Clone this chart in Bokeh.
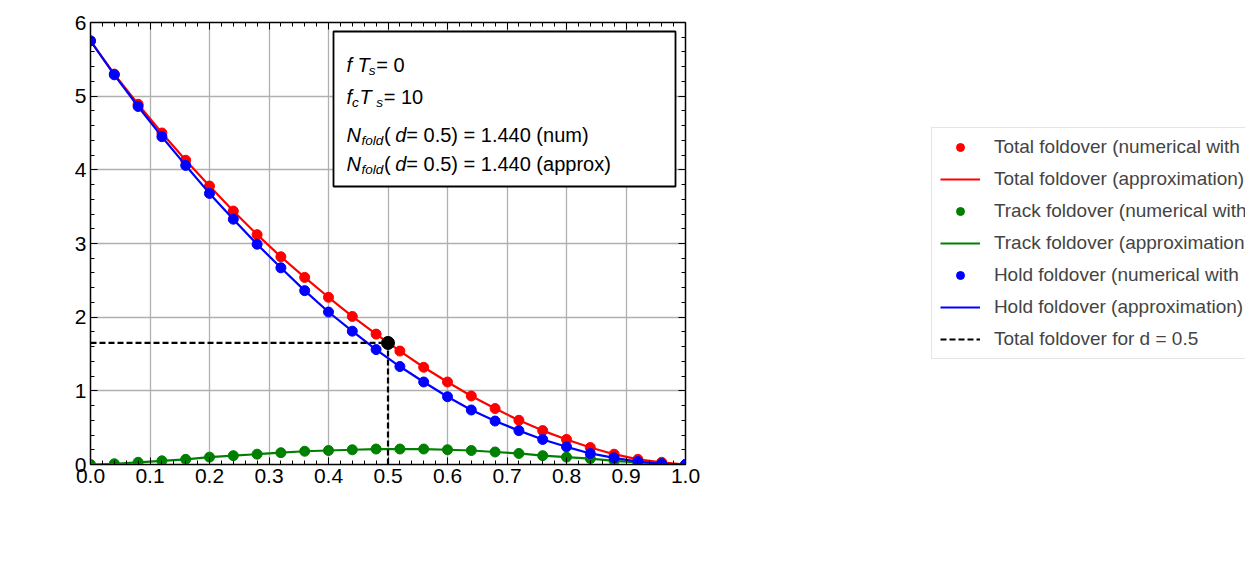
from bokeh.plotting import figure
from bokeh.models import Range1d, LinearAxis, Legend, LegendItem, FixedTicker, ColumnDataSource, Label
from bokeh.embed import file_html
from bokeh.resources import INLINE

d = [0.0,0.04,0.08,0.12,0.16,0.20,0.24,0.28,0.32,0.36,0.40,0.44,0.48,0.52,0.56,0.60,0.64,0.68,0.72,0.76,0.80,0.84,0.88,0.92,0.96,1.0]
total = [5.75,5.30,4.89,4.50,4.13,3.78,3.44,3.12,2.82,2.54,2.27,2.01,1.77,1.54,1.32,1.12,0.93,0.76,0.60,0.46,0.34,0.23,0.14,0.07,0.03,0.0]
hold  = [5.75,5.29,4.86,4.45,4.06,3.68,3.33,2.99,2.67,2.36,2.07,1.81,1.56,1.33,1.12,0.92,0.74,0.59,0.46,0.34,0.24,0.15,0.09,0.04,0.01,0.0]
track = [0.0,0.01,0.03,0.05,0.07,0.10,0.12,0.14,0.16,0.18,0.19,0.20,0.21,0.21,0.21,0.20,0.19,0.17,0.15,0.12,0.10,0.08,0.05,0.03,0.01,0.0]
d_mark = 0.5
total_mark = 1.65

FONT = "Liberation Sans"
p = figure(frame_width=595, frame_height=442, output_backend="svg", toolbar_location=None,
           x_range=Range1d(0, 1), y_range=Range1d(0, 6),
           min_border_left=90, min_border_top=22, min_border_right=10, min_border_bottom=95)
p.outline_line_color = "black"
p.outline_line_width = 1.5
p.background_fill_color = "white"
p.border_fill_color = "white"

def style_axis(ax, labels=True):
    ax.major_tick_in = 7
    ax.major_tick_out = 0
    ax.minor_tick_in = 4
    ax.minor_tick_out = 0
    ax.axis_line_color = "black"
    ax.major_tick_line_color = "black"
    ax.minor_tick_line_color = "black"
    ax.major_label_text_font = FONT
    ax.major_label_text_font_size = "21px" if labels else "0px"
    ax.major_label_text_color = "black"
    ax.major_label_standoff = 4

xt = FixedTicker(ticks=[i/10 for i in range(11)], minor_ticks=[i/50 for i in range(51)])
yt = FixedTicker(ticks=list(range(7)), minor_ticks=[i/5 for i in range(31)])
p.xaxis.ticker = xt
p.yaxis.ticker = yt
style_axis(p.xaxis[0]); style_axis(p.yaxis[0])
p.xaxis.major_label_overrides = {i/10: f"{i/10:.1f}" for i in range(11)}
top = LinearAxis(ticker=xt); style_axis(top, False)
right = LinearAxis(ticker=yt); style_axis(right, False)
p.add_layout(top, "above"); p.add_layout(right, "right")
p.grid.grid_line_color = "#b0b0b0"
p.grid.grid_line_width = 1.3
p.xgrid.ticker = xt; p.ygrid.ticker = yt

src = ColumnDataSource(dict(d=d, total=total, hold=hold, track=track))
items = []
for col, c, lab in [("total", "red", "Total"), ("track", "green", "Track"), ("hold", "blue", "Hold")]:
    ln = p.line("d", col, source=src, color=c, line_width=2.2)
    sc = p.scatter("d", col, source=src, color=c, size=10)
    items.append(LegendItem(label=f"{lab} foldover (numerical with N =  1000)", renderers=[sc]))
    items.append(LegendItem(label=f"{lab} foldover (approximation)", renderers=[ln]))
dl = p.segment(x0=[0, d_mark], y0=[total_mark, 0], x1=[d_mark, d_mark], y1=[total_mark, total_mark],
               color="black", line_width=2.2, line_dash="6 3")
p.scatter([d_mark], [total_mark], color="black", size=13)
items.append(LegendItem(label="Total foldover for d = 0.5", renderers=[dl]))

leg = Legend(items=items, location="left", label_text_font=FONT, label_text_font_size="19px",
             border_line_color="#cccccc", border_line_width=1.5, padding=8, spacing=10,
             glyph_width=40, label_standoff=14, background_fill_alpha=1, margin=8)
p.add_layout(leg, "right")

def px2d(px, py):
    return (px - 98) / 595, (472 - py) / 442 * 6

def rich(px, py, segs, size, angle=0.0):
    for txt, kind in segs:
        sub = "sub" in kind
        fs = size * 0.68 if sub else size
        off = size * 0.28 if sub else 0
        if angle == 0:
            x, y = px2d(px, py + off)
        else:
            x, y = px2d(px + off, py)
        p.add_layout(Label(x=x, y=y, text=txt, text_font=FONT, text_font_size=f"{fs:.1f}px",
                           text_font_style="italic" if "it" in kind else "normal",
                           text_baseline="alphabetic", text_align="left", angle=angle,
                           text_color="black"))
        w = sum((0.28 if ch in "il.()/f1t " else (0.75 if ch in "mNDW" else 0.55)) * fs for ch in txt)
        if angle == 0:
            px += w
        else:
            py -= w

# x-axis label
rich(323, 555, [("D", "it"), (" = ", ""), ("T", "it"), ("t", "itsub"), ("/", ""), ("T", "it"), ("s", "itsub")], 28)
# y-axis label
rich(45, 453, [("PSD normalized to ", ""), ("K", "it"), ("f", "itsub"), (" T", "it"), ("s", "itsub")], 27, angle=1.5708)

# text box
x0, y0 = px2d(341, 194); x1, y1 = px2d(683, 39)
p.quad(left=[x0], right=[x1], bottom=[y0], top=[y1], fill_color="white", line_color="black", line_width=1.8)
fs = 20
rich(354, 72, [("f T", "it"), ("s", "itsub"), ("  = 0", "")], fs)
rich(354, 104, [("f", "it"), ("c", "itsub"), (" T", "it"), ("s", "itsub"), ("  =  10", "")], fs)
rich(354, 142, [("N", "it"), ("fold", "itsub"), (" (", ""), ("d", "it"), (" = 0.5) =  1.440 (num)", "")], fs)
rich(354, 171, [("N", "it"), ("fold", "itsub"), (" (", ""), ("d", "it"), (" = 0.5) =  1.440 (approx)", "")], fs)

open("out.html", "w").write(file_html(p, INLINE))
